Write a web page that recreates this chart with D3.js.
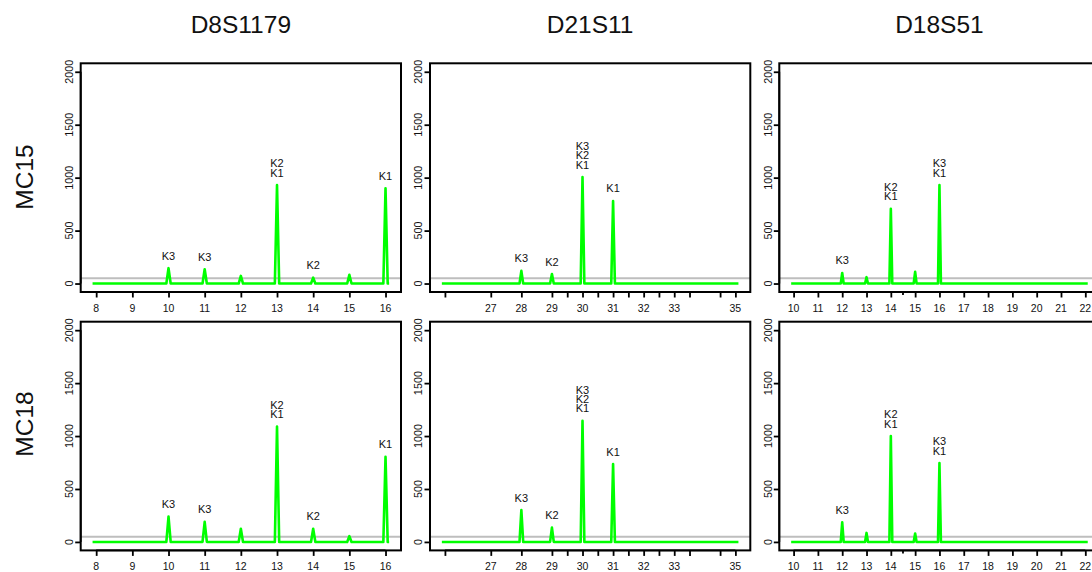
<!DOCTYPE html>
<html>
<head>
<meta charset="utf-8">
<script src="https://cdn.jsdelivr.net/npm/d3@7"></script>
<style>
  html, body { margin: 0; padding: 0; background: #fff; }
  svg { display: block; font-family: "Liberation Sans", Arial, Helvetica, sans-serif; }
</style>
</head>
<body>
<svg id="chart" width="1092" height="572"></svg>
<script>
// STR electropherogram-style peaks: two samples x three loci.
const markers = ["D8S1179", "D21S11", "D18S51"];
const samples = ["MC15", "MC18"];

// Allele positions on each locus axis and the tick labels printed under them
const d8Alleles = [8, 9, 10, 11, 12, 13, 14, 15, 16];
const d8TickLabels = ["8", "9", "10", "11", "12", "13", "14", "15", "16"];
const d21Alleles = [25.5, 27, 28, 29, 29.5, 30, 30.5, 31, 31.5, 32, 32.5, 33, 33.5, 34.5, 35];
const d21TickLabels = ["", "27", "28", "29", "", "30", "", "31", "", "32", "", "33", "", "", "35"];
const d18Alleles = [10, 11, 12, 13, 14, 15, 16, 17, 18, 19, 20, 21, 22];
const d18TickLabels = ["10", "11", "12", "13", "14", "15", "16", "17", "18", "19", "20", "21", "22"];
const d18MinorTicks = [14.5];

const yTicks = [0, 500, 1000, 1500, 2000];
const threshold = 50;

// Peak heights (RFU) per allele
const mc15D8 = [0, 0, 145, 135, 72, 930, 55, 82, 900];
const mc15D21 = [0, 0, 120, 90, 0, 1005, 0, 780, 0, 0, 0, 0, 0, 0, 0];
const mc15D18 = [0, 0, 100, 60, 705, 110, 930, 0, 0, 0, 0, 0, 0];
const mc18D8 = [0, 0, 240, 190, 125, 1090, 125, 55, 805];
const mc18D21 = [0, 0, 300, 135, 0, 1145, 0, 735, 0, 0, 0, 0, 0, 0, 0];
const mc18D18 = [0, 0, 185, 85, 1000, 80, 745, 0, 0, 0, 0, 0, 0];

// Contributor calls stacked above each peak (top line first)
const mc15D8Calls = [[], [], ["K3"], ["K3"], [], ["K2", "K1"], ["K2"], [], ["K1"]];
const mc15D21Calls = [[], [], ["K3"], ["K2"], [], ["K3", "K2", "K1"], [], ["K1"], [], [], [], [], [], [], []];
const mc15D18Calls = [[], [], ["K3"], [], ["K2", "K1"], [], ["K3", "K1"], [], [], [], [], [], []];
const mc18D8Calls = [[], [], ["K3"], ["K3"], [], ["K2", "K1"], ["K2"], [], ["K1"]];
const mc18D21Calls = [[], [], ["K3"], ["K2"], [], ["K3", "K2", "K1"], [], ["K1"], [], [], [], [], [], [], []];
const mc18D18Calls = [[], [], ["K3"], [], ["K2", "K1"], [], ["K3", "K1"], [], [], [], [], [], []];

const loci = [
  { alleles: d8Alleles, labels: d8TickLabels, minor: [] },
  { alleles: d21Alleles, labels: d21TickLabels, minor: [] },
  { alleles: d18Alleles, labels: d18TickLabels, minor: d18MinorTicks }
];
const heights = [[mc15D8, mc15D21, mc15D18], [mc18D8, mc18D21, mc18D18]];
const calls = [[mc15D8Calls, mc15D21Calls, mc15D18Calls], [mc18D8Calls, mc18D21Calls, mc18D18Calls]];

// Panel geometry
const colLeft = [80.7, 430, 779.3];
const rowTop = [63.3, 321.7];
const panelW = 320.3, panelH = 228.7;
const peakHalf = 0.06, pad = 0.1;

const svg = d3.select("#chart");

// expand a range by 4% on each side
function expand(lo, hi) { const d = (hi - lo) * 0.04; return [lo - d, hi + d]; }

markers.forEach((m, c) => {
  svg.append("text")
    .attr("x", colLeft[c] + panelW / 2).attr("y", 33)
    .attr("text-anchor", "middle").attr("font-size", 24.5).attr("fill", "#111")
    .text(m);
});

const rowLabelY = [177, 424];
samples.forEach((s, r) => {
  svg.append("text")
    .attr("transform", `translate(33,${rowLabelY[r]}) rotate(-90)`)
    .attr("text-anchor", "middle").attr("font-size", 24.5).attr("fill", "#111")
    .text(s);
});

samples.forEach((s, r) => {
  loci.forEach((locus, c) => {
    const left = colLeft[c], top = rowTop[r];
    const al = locus.alleles;
    const xs = d3.scaleLinear()
      .domain(expand(d3.min(al) - pad, d3.max(al) + pad))
      .range([left, left + panelW]);
    const ys = d3.scaleLinear()
      .domain(expand(0, 2000))
      .range([top + panelH, top]);

    const g = svg.append("g");
    const clipId = `clip-${r}-${c}`;
    g.append("clipPath").attr("id", clipId)
      .append("rect").attr("x", left).attr("y", top).attr("width", panelW).attr("height", panelH);

    // analytical threshold
    g.append("line")
      .attr("x1", left).attr("x2", left + panelW)
      .attr("y1", ys(threshold)).attr("y2", ys(threshold))
      .attr("stroke", "#bebebe").attr("stroke-width", 2);

    // trace: flat baseline with a narrow peak at each detected allele
    const h = heights[r][c];
    const pts = [[d3.min(al) - pad, 0]];
    al.forEach((a, i) => {
      if (h[i] > 0) {
        pts.push([a - peakHalf, 0], [a, h[i]], [a + peakHalf, 0]);
      }
    });
    pts.push([d3.max(al) + pad, 0]);
    const line = d3.line().x(d => xs(d[0])).y(d => ys(d[1]));
    g.append("path")
      .attr("d", line(pts))
      .attr("fill", "none").attr("stroke", "#00ff00")
      .attr("stroke-width", 2.6).attr("stroke-linejoin", "round").attr("stroke-linecap", "butt");

    // contributor labels above peaks
    const cl = calls[r][c];
    al.forEach((a, i) => {
      const lines = cl[i];
      if (!lines.length) return;
      const base = ys(h[i]) - 8.5;
      lines.slice().reverse().forEach((t, k) => {
        g.append("text")
          .attr("x", xs(a)).attr("y", base - k * 9.3)
          .attr("text-anchor", "middle").attr("font-size", 11).attr("fill", "#111")
          .text(t);
      });
    });

    // y axis
    const yAxis = d3.axisLeft(ys).tickValues(yTicks).tickSize(5.5).tickFormat("");
    const ya = g.append("g").attr("transform", `translate(${left},0)`).call(yAxis);
    ya.select(".domain").attr("d", `M0,${ys(0)}V${ys(2000)}`).attr("stroke", "#000").attr("stroke-width", 1.8);
    ya.selectAll(".tick line").attr("stroke", "#000").attr("stroke-width", 1.8);
    yTicks.forEach(v => {
      g.append("text")
        .attr("transform", `translate(${left - 7.6},${ys(v)}) rotate(-90)`)
        .attr("text-anchor", "middle").attr("font-size", 10.8).attr("fill", "#111")
        .text(v);
    });

    // x axis
    const xAxis = d3.axisBottom(xs).tickValues(al).tickSize(5.5).tickFormat("");
    const xa = g.append("g").attr("transform", `translate(0,${top + panelH})`).call(xAxis);
    xa.select(".domain").attr("d", `M${xs(d3.min(al))},0H${xs(d3.max(al))}`).attr("stroke", "#000").attr("stroke-width", 1.8);
    xa.selectAll(".tick line").attr("stroke", "#000").attr("stroke-width", 1.8);
    locus.minor.forEach(v => {
      g.append("line")
        .attr("x1", xs(v)).attr("x2", xs(v))
        .attr("y1", top + panelH).attr("y2", top + panelH + 3)
        .attr("stroke", "#000").attr("stroke-width", 1.8);
    });
    al.forEach((a, i) => {
      if (!locus.labels[i]) return;
      g.append("text")
        .attr("x", xs(a)).attr("y", top + panelH + 20)
        .attr("text-anchor", "middle").attr("font-size", 10.5).attr("fill", "#111")
        .text(locus.labels[i]);
    });

    // plot frame
    g.append("rect")
      .attr("x", left).attr("y", top).attr("width", panelW).attr("height", panelH)
      .attr("fill", "none").attr("stroke", "#000").attr("stroke-width", 2);
  });
});
</script>
</body>
</html>
